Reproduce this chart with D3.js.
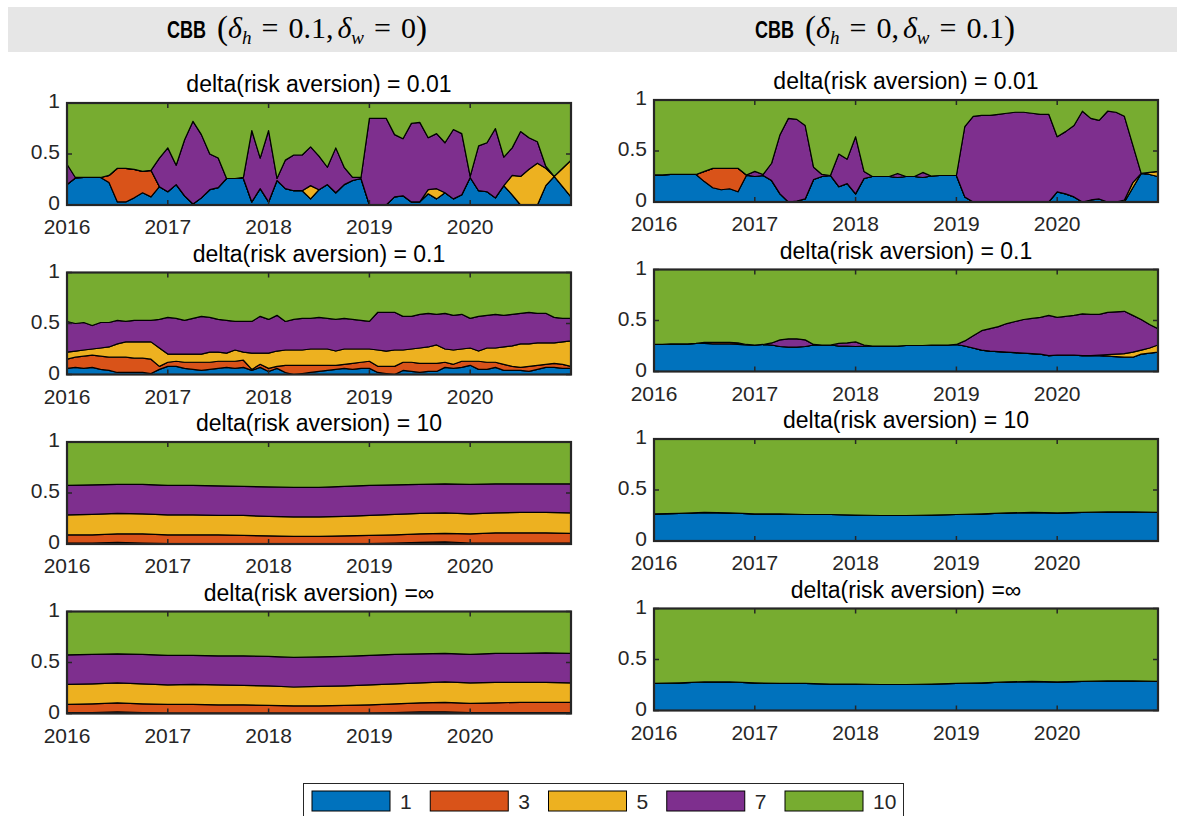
<!DOCTYPE html>
<html>
<head>
<meta charset="utf-8">
<script src="https://cdn.jsdelivr.net/npm/d3@7"></script>
<style>
  body { margin: 0; background: #fff; }
  svg { display: block; }
</style>
</head>
<body>
<svg id="chart" width="1177" height="816"></svg>
<script>
// ---- data ----------------------------------------------------------------
const seriesNames = ["1", "3", "5", "7", "10"];
const seriesColors = ["#0072BD", "#D95319", "#EDB120", "#7E2F8E", "#77AC30"];
const yearTicks = [2016, 2017, 2018, 2019, 2020];
const yTicks = [0, 0.5, 1];
const yTickLabels = ["0", "0.5", "1"];
const panelTitles = ["delta(risk aversion) = 0.01", "delta(risk aversion) = 0.1",
                     "delta(risk aversion) = 10", "delta(risk aversion) =\u221E"];

// months since Jan 2016
const months = d3.range(0, 61);
const quarters = d3.range(0, 61, 3);

// left column: CBB (delta_h = 0.1, delta_w = 0)
const L1_s1 = [.20,.265,.27,.27,.27,.22,.03,.03,.07,.12,.08,.18,.13,.20,.09,.01,.07,.15,.17,.26,.26,.26,.03,.16,.03,.24,.16,.14,.14,.06,.15,.20,.12,.20,.24,.26,0,0,0,.08,.09,.03,.03,.11,.06,.12,.06,.10,.27,.14,.13,.07,.19,.10,0,0,0,.19,.28,.18,.08];
const L1_s3 = [0,0,0,0,0,.07,.33,.33,.28,.21,.26,0,0,0,0,0,0,0,0,0,0,0,0,0,0,0,0,0,0,0,0,0,0,0,0,0,0,0,0,0,0,0,0,0,0,0,0,0,0,0,0,0,0,0,0,0,0,0,0,0,0];
const L1_s5 = [0,0,0,0,0,0,0,0,0,0,0,0,0,0,0,0,0,0,0,0,0,0,0,0,0,0,0,0,0,.13,0,0,0,0,0,0,0,0,0,0,0,0,0,.04,.10,0,0,0,0,0,0,0,0,.19,.28,.35,.41,.17,0,.18,.36];
const L1_s7 = [.20,.005,0,0,0,0,0,0,0,0,0,.28,.43,.19,.55,.81,.62,.35,.29,0,0,.01,.70,.30,.70,.02,.28,.35,.35,.38,.33,.17,.44,.17,.03,.01,.85,.85,.85,.61,.56,.77,.78,.51,.54,.49,.68,.60,.01,.44,.48,.68,.28,.27,.44,.31,.21,.02,0,0,0];
const L1_s10 = [.60,.73,.73,.73,.73,.71,.64,.64,.65,.67,.66,.54,.44,.61,.36,.18,.31,.50,.54,.74,.74,.73,.27,.54,.27,.74,.56,.51,.51,.43,.52,.63,.44,.63,.73,.73,.15,.15,.15,.31,.35,.20,.19,.34,.30,.39,.26,.30,.72,.42,.39,.25,.53,.44,.28,.34,.38,.62,.72,.64,.56];

const L2_s1 = [.06,.07,.06,.07,.05,.04,.02,.02,.02,.02,.01,.05,.08,.08,.06,.05,.04,.05,.06,.07,.06,.07,.04,.07,.03,.06,.02,0,.01,.02,.03,.04,.05,.06,.05,.06,.06,.02,.01,0,.04,.03,.02,.03,.03,.07,.06,.07,.09,.05,.05,.07,.04,.04,.04,.03,.05,.07,.07,.06,.06];
const L2_s3 = [.09,.10,.12,.12,.13,.13,.15,.15,.14,.14,.14,.03,.04,.05,.06,.07,.08,.07,.07,.06,.07,.07,.01,.03,.03,.02,.07,.09,.08,.07,.06,.05,.04,.04,.06,.06,.07,.06,.07,.08,.08,.09,.09,.08,.08,.05,.04,.06,.04,.08,.07,.05,.06,.04,.03,.05,.04,.03,.04,.04,.02];
const L2_s5 = [.07,.06,.06,.06,.08,.10,.13,.15,.16,.16,.17,.18,.08,.07,.08,.08,.08,.10,.09,.08,.11,.08,.16,.11,.15,.15,.15,.15,.15,.16,.16,.16,.14,.15,.14,.13,.12,.16,.15,.16,.12,.13,.15,.16,.18,.13,.14,.12,.13,.10,.14,.14,.17,.20,.23,.22,.22,.21,.20,.22,.25];
const L2_s7 = [.30,.27,.27,.23,.25,.24,.23,.20,.21,.21,.21,.28,.36,.35,.33,.35,.37,.34,.32,.32,.28,.30,.31,.36,.33,.35,.28,.30,.31,.30,.31,.30,.31,.30,.29,.28,.27,.37,.38,.37,.33,.32,.33,.33,.30,.35,.34,.34,.29,.34,.32,.33,.31,.31,.30,.31,.29,.29,.25,.23,.22];
const L2_s10 = [.48,.50,.49,.52,.49,.49,.47,.48,.47,.47,.47,.46,.44,.45,.47,.45,.43,.44,.46,.47,.48,.48,.48,.43,.46,.42,.48,.46,.45,.45,.44,.45,.46,.45,.46,.47,.48,.39,.39,.39,.43,.43,.41,.40,.41,.40,.42,.41,.45,.43,.42,.41,.42,.41,.40,.39,.40,.40,.44,.45,.45];

const L3_s1 = [.01,.01,.015,.01,.005,.005,.005,.005,.005,.005,.005,.005,.005,.01,.015,.02,.01,.01,.01,.01,.01];
const L3_s3 = [.08,.08,.085,.09,.085,.085,.085,.08,.075,.07,.07,.075,.08,.08,.085,.085,.09,.10,.10,.10,.095];
const L3_s5 = [.195,.20,.20,.195,.195,.195,.19,.195,.19,.19,.19,.19,.195,.20,.20,.20,.195,.195,.20,.20,.20];
const L3_s7 = [.29,.29,.285,.29,.29,.29,.29,.285,.29,.29,.29,.295,.295,.29,.285,.285,.29,.285,.28,.28,.285];
const L3_s10 = [.425,.42,.415,.415,.425,.425,.43,.435,.44,.445,.445,.435,.425,.42,.415,.41,.415,.41,.41,.41,.41];

const L4_s1 = [.01,.01,.015,.01,.005,.005,.005,.005,.005,.005,.005,.005,.005,.01,.015,.015,.01,.01,.01,.01,.01];
const L4_s3 = [.08,.085,.09,.085,.085,.085,.08,.08,.075,.07,.07,.075,.08,.085,.09,.095,.09,.095,.10,.10,.10];
const L4_s5 = [.195,.195,.195,.195,.19,.195,.195,.19,.19,.185,.19,.19,.195,.195,.195,.20,.20,.20,.195,.195,.19];
const L4_s7 = [.29,.29,.285,.29,.29,.285,.285,.29,.29,.29,.29,.29,.29,.29,.285,.28,.28,.285,.285,.29,.29];
const L4_s10 = [.425,.42,.415,.42,.43,.43,.435,.435,.44,.45,.445,.44,.43,.42,.415,.41,.42,.41,.41,.405,.41];

// right column: CBB (delta_h = 0, delta_w = 0.1)
const R1_s1 = [.265,.265,.27,.27,.27,.27,.20,.14,.12,.13,.10,.26,.25,.26,.21,.08,0,.01,.03,.22,.25,.26,.15,.18,.08,.23,.25,.25,.25,.24,.25,.25,.24,.255,.26,.26,.26,.05,0,0,0,0,0,0,0,0,0,0,.10,.08,.05,0,.02,.03,0,0,0,.14,.28,.27,.25];
const R1_s3 = [0,0,0,0,0,0,.10,.19,.21,.20,.23,.005,0,0,0,0,0,0,0,0,0,0,0,0,0,0,0,0,0,0,0,0,0,0,0,0,0,0,0,0,0,0,0,0,0,0,0,0,0,0,0,0,0,0,0,0,0,0,0,0,0];
const R1_s5 = [0,0,0,0,0,0,0,0,0,0,0,0,0,0,0,0,0,0,0,0,0,0,0,0,0,0,0,0,0,0,0,0,0,0,0,0,0,0,0,0,0,0,0,0,0,0,0,0,0,0,0,0,0,0,0,0,.02,.05,0,.02,.05];
const R1_s7 = [0,0,0,0,0,0,0,0,0,0,0,0,.05,.01,.17,.58,.82,.80,.72,.12,.02,0,.32,.24,.56,.07,0,0,0,.04,0,0,.05,0,0,0,0,.69,.84,.85,.85,.86,.87,.88,.88,.87,.86,.86,.54,.61,.70,.89,.80,.77,.89,.88,.82,.37,0,0,0];
const R1_s10 = [.735,.735,.73,.73,.73,.73,.70,.67,.67,.67,.67,.735,.70,.73,.62,.34,.18,.19,.25,.66,.73,.74,.53,.58,.36,.70,.75,.75,.75,.72,.75,.75,.71,.745,.74,.74,.74,.26,.16,.15,.15,.14,.13,.12,.12,.13,.14,.14,.36,.31,.25,.11,.18,.20,.11,.12,.16,.44,.72,.71,.70];

const R2_s1 = [.265,.265,.27,.27,.27,.275,.275,.27,.27,.27,.265,.26,.26,.265,.26,.245,.24,.24,.245,.26,.26,.26,.25,.25,.245,.25,.25,.25,.25,.25,.255,.255,.255,.26,.26,.26,.265,.25,.23,.21,.20,.195,.19,.185,.18,.175,.17,.155,.16,.16,.16,.155,.155,.155,.15,.145,.14,.14,.17,.18,.19];
const R2_s3 = [0,0,0,0,0,0,.01,.015,.015,.015,.015,.005,0,0,0,0,0,0,0,0,0,0,0,0,0,0,0,0,0,0,0,0,0,0,0,0,0,0,0,0,0,0,0,0,0,0,0,0,0,0,0,0,0,0,0,0,0,0,0,0,0];
const R2_s5 = [0,0,0,0,0,0,0,0,0,0,0,0,0,0,0,0,0,0,0,0,0,0,0,0,0,0,0,0,0,0,0,0,0,0,0,0,0,0,0,0,0,0,0,0,0,0,0,0,0,0,0,0,0,.005,.015,.025,.035,.05,.04,.05,.07];
const R2_s7 = [0,0,0,0,0,0,0,0,0,0,0,0,0,0,.02,.065,.08,.08,.065,.005,0,0,.025,.03,.045,.01,0,0,0,0,0,0,0,0,0,0,0,.05,.12,.19,.22,.245,.28,.305,.33,.345,.36,.395,.37,.38,.39,.41,.405,.40,.415,.415,.415,.36,.30,.23,.16];
const R2_s10 = [.735,.735,.73,.73,.73,.725,.715,.715,.715,.715,.72,.735,.74,.735,.72,.69,.68,.68,.69,.735,.74,.74,.725,.72,.71,.74,.75,.75,.75,.75,.745,.745,.745,.74,.74,.74,.735,.70,.65,.60,.58,.56,.53,.51,.49,.48,.47,.45,.47,.46,.45,.435,.44,.44,.42,.415,.41,.45,.49,.54,.58];

const R3_s1 = [.265,.27,.28,.275,.265,.265,.26,.26,.255,.25,.25,.255,.26,.265,.275,.28,.275,.28,.285,.285,.28];
const R3_s10 = [.735,.73,.72,.725,.735,.735,.74,.74,.745,.75,.75,.745,.74,.735,.725,.72,.725,.72,.715,.715,.72];
const R4_s1 = [.265,.27,.28,.28,.27,.265,.265,.26,.26,.255,.255,.26,.265,.27,.28,.285,.28,.285,.29,.29,.285];
const R4_s10 = [.735,.73,.72,.72,.73,.735,.735,.74,.74,.745,.745,.74,.735,.73,.72,.715,.72,.715,.71,.71,.715];
const zeroQ = quarters.map(() => 0);

// ---- layout --------------------------------------------------------------
const W = 1177, H = 816;
const boxW = 504, boxH = 102;
const colX = [67, 654];
const rowY = [[103, 272.5, 442, 611.5], [100, 269.5, 439, 608.5]];
const axisColor = "#262626";
const sans = "'Liberation Sans', Arial, sans-serif";

const panels = [
  { col: 0, row: 0, t: months, s: [L1_s1, L1_s3, L1_s5, L1_s7, L1_s10] },
  { col: 0, row: 1, t: months, s: [L2_s1, L2_s3, L2_s5, L2_s7, L2_s10] },
  { col: 0, row: 2, t: quarters, s: [L3_s1, L3_s3, L3_s5, L3_s7, L3_s10] },
  { col: 0, row: 3, t: quarters, s: [L4_s1, L4_s3, L4_s5, L4_s7, L4_s10] },
  { col: 1, row: 0, t: months, s: [R1_s1, R1_s3, R1_s5, R1_s7, R1_s10] },
  { col: 1, row: 1, t: months, s: [R2_s1, R2_s3, R2_s5, R2_s7, R2_s10] },
  { col: 1, row: 2, t: quarters, s: [R3_s1, zeroQ, zeroQ, zeroQ, R3_s10] },
  { col: 1, row: 3, t: quarters, s: [R4_s1, zeroQ, zeroQ, zeroQ, R4_s10] }
];

const svg = d3.select("#chart");
svg.append("rect").attr("width", W).attr("height", H).attr("fill", "#fff");

// header band
svg.append("rect").attr("x", 8).attr("y", 7).attr("width", W - 8).attr("height", 45)
  .attr("fill", "#e6e6e6");

function header(x, hVal, wVal) {
  // narrow bold sans, squeezed horizontally
  svg.append("text").attr("transform", `translate(${x},38) scale(0.75,1)`)
    .attr("font-family", sans).attr("font-weight", "bold").attr("font-size", 24)
    .text("CBB");
  const t = svg.append("text").attr("x", x + 50).attr("y", 38).attr("fill", "#000")
    .attr("font-family", "'Liberation Serif', 'DejaVu Serif', serif").attr("font-size", 30);
  const part = (str, opts = {}) => {
    const s = t.append("tspan").text(str);
    Object.entries(opts).forEach(([k, v]) => s.attr(k, v));
    return s;
  };
  part("(", { "font-size": 33, dy: 1 });
  part("\u03B4", { "font-style": "italic", dy: -1 });
  part("h", { "font-style": "italic", "font-size": 19, dy: 6 });
  part("=", { dx: 10, dy: -6 });
  part(hVal, { dx: 10 });
  part(",", {});
  part("\u03B4", { "font-style": "italic", dx: 4 });
  part("w", { "font-style": "italic", "font-size": 19, dy: 6 });
  part("=", { dx: 10, dy: -6 });
  part(wVal, { dx: 10 });
  part(")", { "font-size": 33, dy: 1 });
}
header(167, "0.1", "0");
header(755, "0", "0.1");

// ---- panels --------------------------------------------------------------
const stack = d3.stack().keys(seriesNames);

panels.forEach((p, pi) => {
  const x0 = colX[p.col], y0 = rowY[p.col][p.row];
  const x = d3.scaleLinear().domain([2016, 2021]).range([x0, x0 + boxW]);
  const y = d3.scaleLinear().domain([0, 1]).range([y0 + boxH, y0]);

  const rows = p.t.map((m, i) => {
    const r = { date: 2016 + m / 12 };
    seriesNames.forEach((k, j) => { r[k] = p.s[j][i]; });
    return r;
  });
  const layers = stack(rows);

  const clipId = "clip" + pi;
  svg.append("clipPath").attr("id", clipId).append("rect")
    .attr("x", x0).attr("y", y0).attr("width", boxW).attr("height", boxH);

  const area = d3.area()
    .x(d => x(d.data.date))
    .y0(d => y(d[0]))
    .y1(d => y(d[1]));

  const g = svg.append("g").attr("clip-path", `url(#${clipId})`);
  g.selectAll("path")
    .data(layers)
    .join("path")
    .attr("d", area)
    .attr("fill", (d, i) => seriesColors[i])
    .attr("stroke", "#000")
    .attr("stroke-width", 1.2)
    .attr("stroke-linejoin", "round");

  // axes box + ticks
  const ax = svg.append("g").attr("font-family", sans);
  ax.append("rect").attr("x", x0).attr("y", y0).attr("width", boxW).attr("height", boxH)
    .attr("fill", "none").attr("stroke", axisColor).attr("stroke-width", 2.2);

  yearTicks.forEach(yr => {
    const xx = x(yr);
    ax.append("line").attr("x1", xx).attr("x2", xx).attr("y1", y0 + boxH).attr("y2", y0 + boxH - 5)
      .attr("stroke", axisColor).attr("stroke-width", 1.5);
    ax.append("line").attr("x1", xx).attr("x2", xx).attr("y1", y0).attr("y2", y0 + 5)
      .attr("stroke", axisColor).attr("stroke-width", 1.5);
    ax.append("text").attr("x", xx).attr("y", y0 + boxH + 29)
      .attr("text-anchor", "middle").attr("font-size", 21).attr("fill", axisColor)
      .text(yr);
  });
  yTicks.forEach((v, i) => {
    const yy = y(v);
    ax.append("line").attr("x1", x0).attr("x2", x0 + 5).attr("y1", yy).attr("y2", yy)
      .attr("stroke", axisColor).attr("stroke-width", 1.5);
    ax.append("line").attr("x1", x0 + boxW).attr("x2", x0 + boxW - 5).attr("y1", yy).attr("y2", yy)
      .attr("stroke", axisColor).attr("stroke-width", 1.5);
    ax.append("text").attr("x", x0 - 7).attr("y", yy).attr("dy", "0.26em")
      .attr("text-anchor", "end").attr("font-size", 21).attr("fill", axisColor)
      .text(yTickLabels[i]);
  });

  ax.append("text").attr("x", x0 + boxW / 2).attr("y", y0 - 11)
    .attr("text-anchor", "middle").attr("font-size", 23).attr("fill", "#000")
    .text(panelTitles[p.row]);
});

// ---- legend --------------------------------------------------------------
const legend = svg.append("g").attr("font-family", sans);
legend.append("rect").attr("x", 303.5).attr("y", 783.5).attr("width", 600).attr("height", 40)
  .attr("fill", "#fff").attr("stroke", axisColor).attr("stroke-width", 1);
const legendX = d3.scalePoint().domain(seriesNames).range([312, 785]);
legend.selectAll("rect.sw")
  .data(seriesNames)
  .join("rect")
  .attr("class", "sw")
  .attr("x", d => legendX(d)).attr("y", 791)
  .attr("width", 78).attr("height", 20)
  .attr("fill", (d, i) => seriesColors[i])
  .attr("stroke", "#000").attr("stroke-width", 1);
legend.selectAll("text")
  .data(seriesNames)
  .join("text")
  .attr("x", d => legendX(d) + 88).attr("y", 808.5)
  .attr("font-size", 21).attr("fill", axisColor)
  .text(d => d);
</script>
</body>
</html>
